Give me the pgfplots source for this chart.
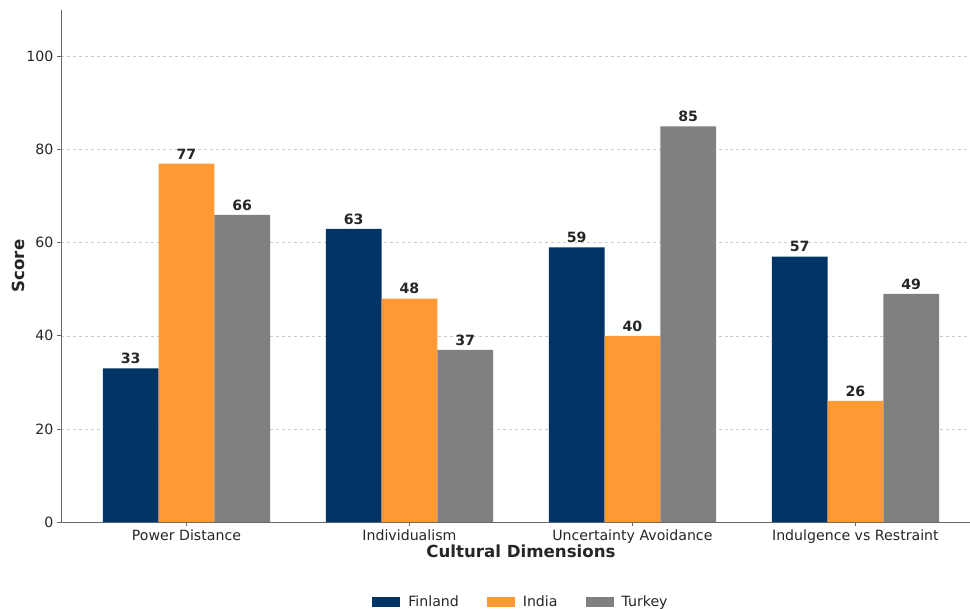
\documentclass[border=0pt]{standalone}
\usepackage{pgfplots}
\pgfplotsset{compat=1.18}
\usepackage{fontspec}
\setmainfont{DejaVu Sans}
\definecolor{fin}{HTML}{003366}
\definecolor{ind}{HTML}{FF9933}
\definecolor{tur}{HTML}{808080}
\definecolor{txt}{HTML}{262626}
\begin{document}
\begin{tikzpicture}
\useasboundingbox (-61bp,-87bp) rectangle (909bp,522bp);
\begin{axis}[
  at={(0,0)}, anchor=south west,
  width=909bp, height=512bp, scale only axis,
  xmin=-0.5625, xmax=3.514, ymin=0, ymax=110,
  axis x line*=bottom, axis y line*=left,
  axis line style={draw=black!60, line width=0.9pt},
  ytick={0,20,40,60,80,100},
  xtick={0,1,2,3},
  xticklabels={Power Distance,Individualism,Uncertainty Avoidance,Indulgence vs Restraint},
  x tick style={draw=black!60, line width=0.8pt},
  y tick style={draw=black!60, line width=0.8pt},
  xtick align=inside, ytick align=outside,
  major tick length=4bp,
  tick label style={font=\fontsize{14.2}{16}\selectfont, text=txt},
  /pgf/number format/assume math mode=true,
  ymajorgrids, grid style={dashed, black!20, line width=0.6pt},
  xlabel={Cultural Dimensions},
  xlabel style={font=\bfseries\fontsize{16.7}{20}\selectfont, text=txt, at={(rel axis cs:0.506,0)}, anchor=center, yshift=-29bp},
  ylabel={Score},
  ylabel style={font=\bfseries\fontsize{16.7}{20}\selectfont, text=txt, at={(rel axis cs:0,0.5)}, anchor=center, yshift=43bp},
  ybar, bar width=0.25,
  nodes near coords,
  nodes near coords style={font=\bfseries\fontsize{14.2}{16}\selectfont, text=txt, anchor=south, yshift=1bp},
  legend style={at={(rel axis cs:0.506,0)}, anchor=center, yshift=-80bp, draw=none, fill=none,
    font=\fontsize{14.2}{16}\selectfont, text=txt, legend columns=3,
    /tikz/every odd column/.append style={column sep=6bp},
    /tikz/every even column/.append style={column sep=26bp}},
  legend image code/.code={\fill[#1] (0bp,-5bp) rectangle (28bp,5bp);},
]
\addplot[fill=fin, draw=none, bar shift=-0.25] coordinates {(0,33) (1,63) (2,59) (3,57)};
\addplot[fill=ind, draw=none, bar shift=0] coordinates {(0,77) (1,48) (2,40) (3,26)};
\addplot[fill=tur, draw=none, bar shift=0.25] coordinates {(0,66) (1,37) (2,85) (3,49)};
\legend{Finland,India,Turkey}
\end{axis}
\end{tikzpicture}
\end{document}
